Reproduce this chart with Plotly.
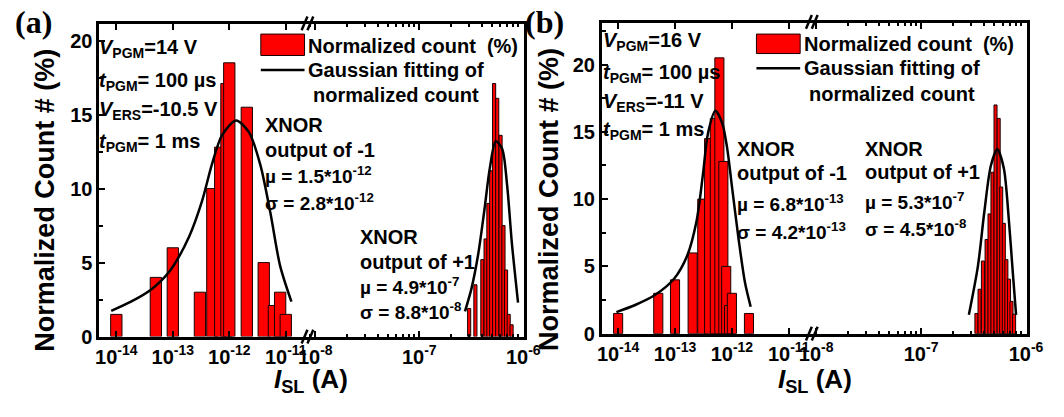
import numpy as np
import plotly.graph_objects as go

W, H = 1064, 417

# ---------------- data (I_SL as log10 of current in A, counts in %) ----------------
# panel (a)
a_low_log10I = [-14.0, -13.30, -13.0, -12.52, -12.30, -12.16, -12.05, -12.0, -11.69, -11.39, -11.21, -11.10, -11.0]
a_low_count = [1.5, 4.0, 6.0, 3.0, 10.0, 12.8, 17.1, 18.5, 15.5, 5.0, 2.1, 3.0, 1.5]
a_high_log10I = [-6.52, -6.46, -6.393, -6.362, -6.335, -6.308, -6.28, -6.25, -6.218, -6.19, -6.165, -6.14, -6.112]
a_high_count = [1.9, 3.5, 5.2, 6.6, 9.0, 11.2, 17.1, 16.1, 13.6, 7.5, 4.5, 1.5, 0.8]
a_low_fit_log10I = [-14.09, -13.74, -13.40, -13.05, -12.71, -12.48, -12.31, -12.13, -11.88, -11.65, -11.45, -11.27, -11.10, -10.90]
a_low_fit = [1.74, 2.36, 3.13, 4.45, 6.77, 9.19, 11.6, 13.6, 14.6, 13.8, 11.6, 8.31, 4.78, 2.36]
a_high_fit_log10I = [-6.56, -6.498, -6.436, -6.374, -6.321, -6.264, -6.203, -6.156, -6.109, -6.05]
a_high_fit = [1.7, 3.24, 5.44, 8.52, 11.4, 13.2, 12.7, 10.3, 6.3, 2.3]

# panel (b)
b_low_log10I = [-14.0, -13.294, -13.0, -12.69, -12.52, -12.40, -12.30, -12.22, -12.15, -12.10, -12.05, -12.0, -11.70]
b_low_count = [1.5, 3.0, 4.0, 6.0, 10.0, 14.5, 16.0, 20.5, 12.8, 5.0, 2.1, 3.0, 1.5]
b_high_log10I = [-6.473, -6.443, -6.411, -6.376, -6.348, -6.32, -6.291, -6.261, -6.237, -6.212, -6.1875, -6.163, -6.139, -6.114]
b_high_count = [1.5, 3.3, 5.4, 7.0, 8.9, 12.0, 17.0, 16.0, 10.9, 8.2, 5.5, 4.05, 2.4, 1.45]
b_low_fit_log10I = [-14.03, -13.70, -13.36, -13.02, -12.79, -12.62, -12.51, -12.42, -12.29, -12.17, -12.08, -11.995, -11.88, -11.77, -11.67]
b_low_fit = [1.6, 2.13, 2.85, 4.06, 5.75, 8.4, 11.8, 14.9, 16.57, 15.65, 13.7, 10.8, 6.96, 3.8, 2.0]
b_high_fit_log10I = [-6.545, -6.459, -6.397, -6.335, -6.274, -6.212, -6.166, -6.126, -6.095]
b_high_fit = [1.4, 5.0, 9.1, 12.5, 13.7, 12.3, 8.65, 4.5, 1.4]

low_decades = [-14, -13, -12, -11]
high_decades = [-8, -7, -6]
y_ticks = [0, 5, 10, 15, 20]

# ---------------- helpers ----------------
SANS = "Liberation Sans, Arial, sans-serif"
SERIF = "Liberation Serif, Times New Roman, serif"


def px(x):
    return x / W


def py(y):
    return 1 - y / H


fig = go.Figure()


def add_bars(xs, ys, width, xa, ya):
    fig.add_trace(go.Bar(x=xs, y=ys, width=width, xaxis=xa, yaxis=ya,
                         marker=dict(color="#FF0000", line=dict(color="#1a0000", width=1)),
                         showlegend=False))


def add_fit(xs, ys, xa, ya):
    fig.add_trace(go.Scatter(x=xs, y=ys, mode="lines", xaxis=xa, yaxis=ya,
                             line=dict(color="black", width=2.5, shape="spline", smoothing=0.8),
                             showlegend=False))


add_bars(a_low_log10I, a_low_count, 0.2, "x", "y")
add_fit(a_low_fit_log10I, a_low_fit, "x", "y")
add_bars(a_high_log10I, a_high_count, 0.03, "x2", "y3")
add_fit(a_high_fit_log10I, a_high_fit, "x2", "y3")

add_bars(b_low_log10I, b_low_count, 0.16, "x3", "y2")
add_fit(b_low_fit_log10I, b_low_fit, "x3", "y2")
add_bars(b_high_log10I, b_high_count, 0.029, "x4", "y4")
add_fit(b_high_fit_log10I, b_high_fit, "x4", "y4")

tickfont = dict(family=SANS, size=20, color="black", weight="bold")


def xaxis(domain, rng, decades, anchor, minor_vals=None):
    d = dict(domain=domain, range=rng, anchor=anchor, type="linear",
             tickmode="array", tickvals=decades,
             ticktext=["10<sup>%d</sup>" % d_ for d_ in decades],
             ticks="inside", ticklen=6, tickwidth=2, tickcolor="black",
             showline=True, linewidth=3, linecolor="black", mirror="ticks",
             showgrid=False, zeroline=False, tickfont=tickfont, fixedrange=True)
    if minor_vals is not None:
        d["minor"] = dict(tickmode="array", tickvals=minor_vals, ticks="inside",
                          ticklen=3, tickwidth=1.5, tickcolor="black")
    return d


def yaxis_main(domain, rng, anchor):
    return dict(domain=domain, range=rng, anchor=anchor, tickmode="array", tickvals=y_ticks,
                ticks="inside", ticklen=6, tickwidth=2, tickcolor="black",
                minor=dict(dtick=2.5, ticks="inside", ticklen=4, tickwidth=2, tickcolor="black"),
                showline=True, linewidth=3, linecolor="black", showgrid=False, zeroline=False,
                tickfont=tickfont, fixedrange=True)


def yaxis_right(domain, rng, anchor, match):
    return dict(domain=domain, range=rng, anchor=anchor, side="right", matches=match,
                showticklabels=False, ticks="", showline=True, linewidth=3, linecolor="black",
                showgrid=False, zeroline=False, fixedrange=True)


high_minor = [np.log10(k) + d for d in (-9, -8, -7) for k in range(2, 10)]

# geometry (pixels)
ax_l, ax_brk, ax_r, ay_t, ay_b = 89, 303, 526, 25, 345.7
bx_l, bx_brk, bx_r, by_t, by_b = 606, 822, 1043, 23.5, 342.7

fig.update_layout(
    width=W, height=H, margin=dict(l=0, r=0, t=0, b=0),
    paper_bgcolor="white", plot_bgcolor="white", barmode="overlay", showlegend=False,
    font=dict(family=SANS, color="black"),
    xaxis=xaxis([px(ax_l), px(ax_brk)], [-14.298, -10.616], low_decades, "y"),
    xaxis2=xaxis([px(ax_brk), px(ax_r)], [-8.075, -5.991], high_decades, "y3", high_minor),
    xaxis3=xaxis([px(bx_l), px(bx_brk)], [-14.285, -10.595], low_decades, "y2"),
    xaxis4=xaxis([px(bx_brk), px(bx_r)], [-8.041, -5.995], high_decades, "y4", high_minor),
    yaxis=yaxis_main([py(ay_b), py(ay_t)], [0, 21.1], "x"),
    yaxis3=yaxis_right([py(ay_b), py(ay_t)], [0, 21.1], "x2", "y"),
    yaxis2=yaxis_main([py(by_b), py(by_t)], [0, 23.1], "x3"),
    yaxis4=yaxis_right([py(by_b), py(by_t)], [0, 23.1], "x4", "y2"),
)

ann = []
PAD = 5  # plotly annotation inner padding, compensated for left-anchored text


def text(x, y, s, size=20, xanchor="left", family=SANS, angle=0):
    if xanchor == "left":
        x -= PAD
    ann.append(dict(x=px(x), y=py(y), xref="paper", yref="paper", text="<b>%s</b>" % s,
                    showarrow=False, xanchor=xanchor, yanchor="middle", textangle=angle,
                    font=dict(family=family, size=size, color="black")))


shapes = []


def legend(x0, x1, ybox0, ybox1, yline, tx, ty1, ty2, ty3):
    shapes.append(dict(type="rect", xref="paper", yref="paper", x0=px(x0), x1=px(x1),
                       y0=py(ybox1), y1=py(ybox0), fillcolor="#FF0000",
                       line=dict(color="#1a0000", width=1)))
    shapes.append(dict(type="line", xref="paper", yref="paper", x0=px(x0), x1=px(x1),
                       y0=py(yline), y1=py(yline), line=dict(color="black", width=2.5)))
    text(tx, ty1, "Normalized count&nbsp;&nbsp;(%)")
    text(tx, ty2, "Gaussian fitting of")
    text(tx + 5, ty3, "normalized count")


def axis_break(bx, yt, yb):
    for yc in (yt - 1, yb):
        for dx in (-3, 3):
            shapes.append(dict(type="line", xref="paper", yref="paper",
                               x0=px(bx + dx - 3), x1=px(bx + dx + 3),
                               y0=py(yc + 7), y1=py(yc - 7),
                               line=dict(color="black", width=2.5)))


# panel (a)
text(5, 23, "(a)", size=32, family=SERIF)
text(91, 50, "<i>V</i><sub>PGM</sub>=14 V")
text(91, 84, "<i>t</i><sub>PGM</sub>= 100 µs")
text(91, 114, "<i>V</i><sub>ERS</sub>=-10.5 V")
text(91, 146, "<i>t</i><sub>PGM</sub>= 1 ms")
legend(255, 300, 35, 57, 72, 307, 47, 72, 98)
text(262, 128, "XNOR")
text(262, 154, "output of -1")
text(262, 180, "µ = 1.5*10<sup>-12</sup>", size=19)
text(262, 207, "σ = 2.8*10<sup>-12</sup>", size=19)
text(360, 243, "XNOR")
text(360, 269, "output of +1")
text(360, 294, "µ = 4.9*10<sup>-7</sup>", size=19)
text(360, 319, "σ = 8.8*10<sup>-8</sup>", size=19)
text(32, 206, "Normalized Count # (%)", size=27, xanchor="center", angle=-90)
text(307, 391, "<i>I</i><sub>SL</sub> (A)", size=26, xanchor="center")

# panel (b)
text(530, 23, "(b)", size=32, family=SERIF)
text(610, 43, "<i>V</i><sub>PGM</sub>=16 V")
text(610, 76, "<i>t</i><sub>PGM</sub>= 100 µs")
text(610, 105, "<i>V</i><sub>ERS</sub>=-11 V")
text(610, 134, "<i>t</i><sub>PGM</sub>= 1 ms")
legend(765, 810, 35, 55, 70, 817, 45, 70, 97)
text(748, 153, "XNOR")
text(748, 178, "output of -1")
text(748, 209, "µ = 6.8*10<sup>-13</sup>", size=19)
text(748, 237, "σ = 4.2*10<sup>-13</sup>", size=19)
text(880, 153, "XNOR")
text(880, 177, "output of +1")
text(880, 206, "µ = 5.3*10<sup>-7</sup>", size=19)
text(880, 234, "σ = 4.5*10<sup>-8</sup>", size=19)
text(551, 205, "Normalized Count # (%)", size=27, xanchor="center", angle=-90)
text(825, 391, "<i>I</i><sub>SL</sub> (A)", size=26, xanchor="center")

# axis-break marks
axis_break(ax_brk, ay_t, ay_b)
axis_break(bx_brk, by_t, by_b)

fig.update_layout(annotations=ann, shapes=shapes)
fig.write_html("out.html")
